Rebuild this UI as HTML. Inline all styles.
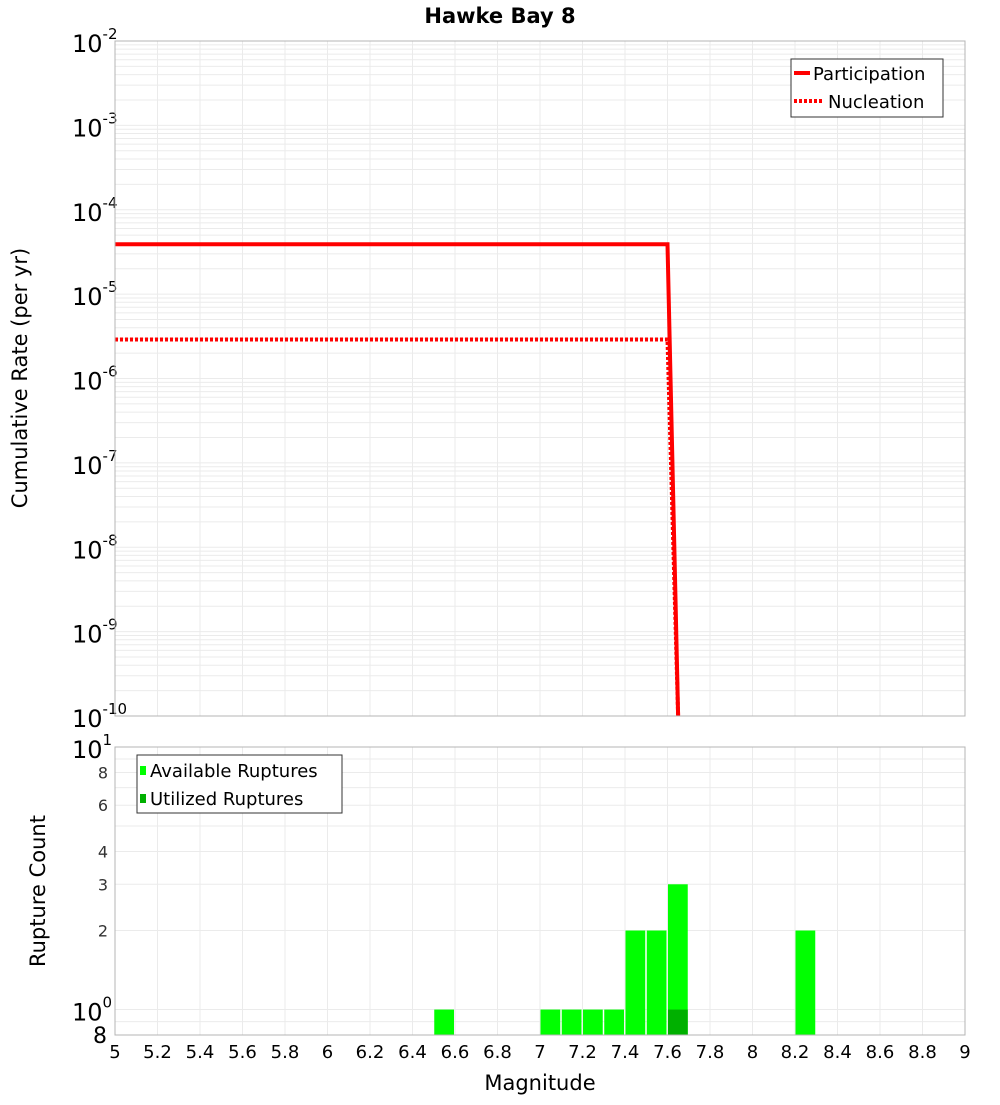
<!DOCTYPE html>
<html><head><meta charset="utf-8"><style>
body{margin:0;background:#fff;}
svg text{font-family:"DejaVu Sans","Liberation Sans",sans-serif;}
</style></head><body>
<svg id="c" width="1000" height="1100" xmlns="http://www.w3.org/2000/svg">
<text x="500" y="23" text-anchor="middle" font-size="21" font-weight="bold">Hawke Bay 8</text>
<g id="topg"></g>
<g id="botg"></g>
<text transform="translate(27,378) rotate(-90)" text-anchor="middle" font-size="21">Cumulative Rate (per yr)</text>
<text transform="translate(45,891) rotate(-90)" text-anchor="middle" font-size="21">Rupture Count</text>
<text x="540" y="1090" text-anchor="middle" font-size="21">Magnitude</text>
</svg>
<script>
const partMag=[5,7.6,7.65];
const partRate=[3.9e-5,3.9e-5,1e-10];
const nuclMag=[5,7.6,7.65];
const nuclRate=[2.9e-6,2.9e-6,1e-10];
const binStart=[6.5,7.0,7.1,7.2,7.3,7.4,7.5,7.6,8.2];
const availCount=[1,1,1,1,1,2,2,3,2];
const usedStart=[7.6];
const usedCount=[1];
const xTicks=[5,5.2,5.4,5.6,5.8,6,6.2,6.4,6.6,6.8,7,7.2,7.4,7.6,7.8,8,8.2,8.4,8.6,8.8,9];
const countTicks=[0.8,1,2,3,4,6,8,10];
const NS="http://www.w3.org/2000/svg";
const L=115,R=965;
const X=m=>L+(m-5)/4*(R-L);
const T0=41,T1=716;
const YT=v=>T0+(-2-Math.log10(v))/8*(T1-T0);
const B0=747,B1=1035;
const YB=v=>B0+(1-Math.log10(v))/(1-Math.log10(0.8))*(B1-B0);
function el(p,tag,a,txt){const e=document.createElementNS(NS,tag);for(const k in a)e.setAttribute(k,a[k]);if(txt!==undefined)e.textContent=txt;p.appendChild(e);return e;}
const topG=document.getElementById('topg'),botG=document.getElementById('botg');
for(const m of xTicks){
 let g=el(topG,'line',{x1:X(m),x2:X(m),y1:T0,y2:T1,stroke:'#ebebeb'});
 
 
 g=el(botG,'line',{x1:X(m),x2:X(m),y1:B0,y2:B1,stroke:'#ebebeb'});
 
 
}
for(let d=-10;d<-2;d++)for(let k=1;k<10;k++){
 const y=YT(k*Math.pow(10,d));
 const g=el(topG,'line',{x1:L,x2:R,y1:y,y2:y,stroke:'#ebebeb'});
 
 
}
for(const v of [0.8,0.9,1,2,3,4,5,6,7,8,9,10]){
 const g=el(botG,'line',{x1:L,x2:R,y1:YB(v),y2:YB(v),stroke:'#ebebeb'});
 
 
}
for(let d=-10;d<=-2;d++){
 const t=el(topG,'text',{x:72,y:YT(Math.pow(10,d))+11,'font-size':24});
 
 
 t.textContent='10';
 el(t,'tspan',{dy:-13,'font-size':15},String(d));
}
function pl(ms,rs,dash,name){
 const p=el(topG,'polyline',{points:ms.map((m,i)=>X(m)+','+YT(rs[i])).join(' '),fill:'none',stroke:'#ff0000','stroke-width':4});
 if(dash)p.setAttribute('stroke-dasharray','3,2');
 
 
}
pl(nuclMag,nuclRate,true,'nucleation-line');
pl(partMag,partRate,false,'participation-line');
el(topG,'rect',{x:L,y:T0,width:R-L,height:T1-T0,fill:'none',stroke:'#b4b4b4'});
const lg=el(topG,'g',{});


el(lg,'rect',{x:791,y:59,width:152,height:58,fill:'#fff',stroke:'#333'});
el(lg,'line',{x1:794,x2:810,y1:73,y2:73,stroke:'#f00','stroke-width':4});
el(lg,'text',{x:813,y:80,'font-size':18},'Participation');
el(lg,'line',{x1:794,x2:824,y1:101,y2:101,stroke:'#f00','stroke-width':4,'stroke-dasharray':'3,2'});
el(lg,'text',{x:828,y:108,'font-size':18},'Nucleation');
const bw=X(5.1)-X(5);
binStart.forEach((s,i)=>{
 const r=el(botG,'rect',{x:X(s)+0.5,y:YB(availCount[i]),width:bw-1.5,height:B1-YB(availCount[i]),fill:'#00ff00'});
 
 
});
usedStart.forEach((s,i)=>{
 const r=el(botG,'rect',{x:X(s)+0.5,y:YB(usedCount[i]),width:bw-1.5,height:B1-YB(usedCount[i]),fill:'#00b000'});
 
 
});
el(botG,'rect',{x:L,y:B0,width:R-L,height:B1-B0,fill:'none',stroke:'#b4b4b4'});
for(const v of countTicks){
 let t;
 if(v===10||v===1){
  t=el(botG,'text',{x:72,y:YB(v)+11,'font-size':24},'10');
  el(t,'tspan',{dy:-13,'font-size':15},v===10?'1':'0');
 }else if(v===0.8){
  t=el(botG,'text',{x:107,y:YB(v)+8,'font-size':22,'text-anchor':'end'},'8');
 }else{
  t=el(botG,'text',{x:108,y:YB(v)+6,'font-size':16,'text-anchor':'end',fill:'#333'},String(v));
 }
 
 
}
for(const m of xTicks){
 const t=el(botG,'text',{x:X(m),y:1058,'font-size':18,'text-anchor':'middle'},String(m));
 
 
}
const bl=el(botG,'g',{});


el(bl,'rect',{x:137,y:755,width:205,height:58,fill:'#fff',stroke:'#333'});
el(bl,'rect',{x:140,y:766,width:6,height:9,fill:'#00ff00'});
el(bl,'text',{x:150,y:777,'font-size':18},'Available Ruptures');
el(bl,'rect',{x:140,y:794,width:6,height:9,fill:'#00b000'});
el(bl,'text',{x:150,y:805,'font-size':18},'Utilized Ruptures');
</script>
</body></html>
